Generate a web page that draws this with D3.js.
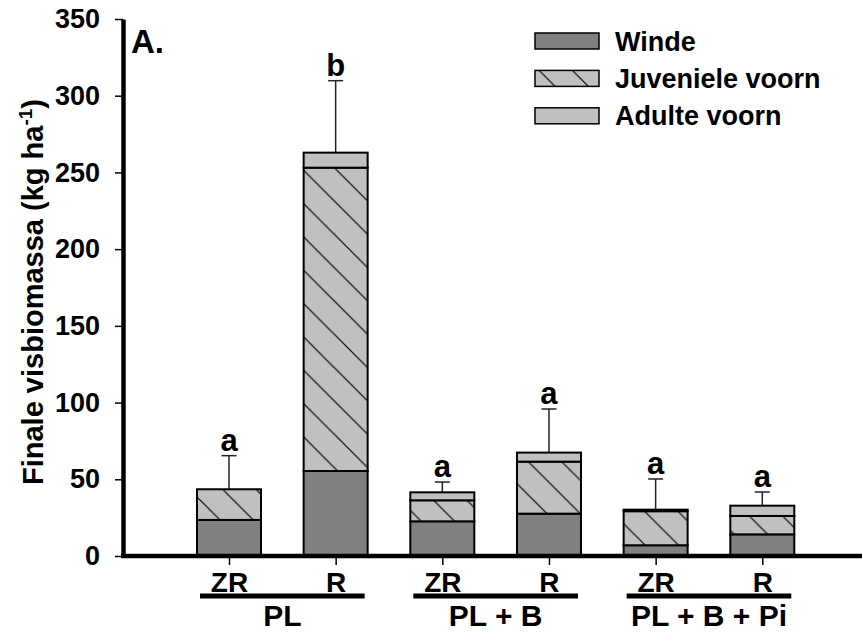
<!DOCTYPE html>
<html lang="nl">
<head>
<meta charset="UTF-8">
<title>Finale visbiomassa</title>
<script src="https://d3js.org/d3.v7.min.js"></script>
<style>
    body { margin: 0; background: #fff; }
    svg { display: block; font-family: "Liberation Sans", Arial, sans-serif; font-weight: bold; }
    .tick text { font-size: 27px; fill: #000; }
</style>
</head>
<body>
<script>
// data
const groups = ["PL", "PL + B", "PL + B + Pi"];
const treatments = ["ZR", "R", "ZR", "R", "ZR", "R"];
const groupOf = [0, 0, 1, 1, 2, 2];
const winde = [23.5, 55.4, 22.6, 27.6, 7.0, 14.1];
const juveniel = [20.0, 197.7, 13.7, 33.9, 22.2, 12.0];
const adult = [0, 9.8, 5.2, 5.9, 1.0, 6.7];
const se = [21.9, 46.9, 6.7, 28.4, 20.0, 8.9];
const letters = ["a", "b", "a", "a", "a", "a"];
const seriesNames = ["Winde", "Juveniele voorn", "Adulte voorn"];
const yTicks = [0, 50, 100, 150, 200, 250, 300, 350];

const width = 862, height = 633;
const barW = 64;

const svg = d3.select("body").append("svg")
    .attr("width", width)
    .attr("height", height);

// hatch for juvenile roach
const defs = svg.append("defs");
const pat = defs.append("pattern")
    .attr("id", "hatch")
    .attr("patternUnits", "userSpaceOnUse")
    .attr("width", 33.33)
    .attr("height", 33.33);
pat.append("rect").attr("width", 33.33).attr("height", 33.33).attr("fill", "#c0c0c0");
pat.append("path")
    .attr("d", "M0,0L33.33,33.33M-5,28.33L5,38.33M28.33,-5L38.33,5")
    .attr("stroke", "#000")
    .attr("stroke-width", 1.2);

const fills = ["#808080", "url(#hatch)", "#c0c0c0"];

const idx = d3.range(treatments.length);
const x = d3.scalePoint().domain(idx).range([229, 762.3]);
const y = d3.scaleLinear().domain([0, 350]).range([556, 19]);

const rows = idx.map(i => ({ i: i, Winde: winde[i], "Juveniele voorn": juveniel[i], "Adulte voorn": adult[i] }));
const stacked = d3.stack().keys(seriesNames)(rows);

// error bars (upper only) and letters
const errG = svg.append("g");
idx.forEach(i => {
    const total = winde[i] + juveniel[i] + adult[i];
    const cx = x(i);
    errG.append("line")
        .attr("x1", cx).attr("x2", cx)
        .attr("y1", y(total)).attr("y2", y(total + se[i]))
        .attr("stroke", "#222").attr("stroke-width", 1.5);
    errG.append("line")
        .attr("x1", cx - 7.5).attr("x2", cx + 7.5)
        .attr("y1", y(total + se[i])).attr("y2", y(total + se[i]))
        .attr("stroke", "#222").attr("stroke-width", 1.5);
    svg.append("text")
        .attr("x", cx)
        .attr("y", y(total + se[i]) - 5)
        .attr("text-anchor", "middle")
        .style("font-size", "31px")
        .text(letters[i]);
});

// stacked bars
svg.selectAll(".layer")
    .data(stacked)
    .enter().append("g")
    .attr("class", "layer")
    .attr("fill", (d, k) => fills[k])
    .selectAll("rect")
    .data(d => d)
    .enter().append("rect")
    .attr("x", d => x(d.data.i) - barW / 2)
    .attr("width", barW)
    .attr("y", d => y(d[1]))
    .attr("height", d => y(d[0]) - y(d[1]))
    .attr("stroke", "#000")
    .attr("stroke-width", 2);

// y axis
const yAxis = svg.append("g")
    .attr("transform", "translate(123,0)")
    .call(d3.axisLeft(y).tickValues(yTicks).tickSize(8).tickSizeOuter(0).tickPadding(15));
yAxis.select(".domain").attr("stroke-width", 4.5);
yAxis.selectAll(".tick line").attr("stroke-width", 1.5);

// x axis
const xAxis = svg.append("g")
    .attr("transform", "translate(0,556)")
    .call(d3.axisBottom(x).tickSize(9).tickSizeOuter(0).tickFormat(i => treatments[i]));
xAxis.select(".domain").remove();
xAxis.selectAll(".tick line").attr("stroke-width", 1.5);
xAxis.selectAll(".tick text").attr("y", 36).attr("dy", 0).style("font-size", "28px");
svg.append("line")
    .attr("x1", 121).attr("x2", 862)
    .attr("y1", 556).attr("y2", 556)
    .attr("stroke", "#000").attr("stroke-width", 4.5);

// group underlines + names
groups.forEach((g, gi) => {
    const members = idx.filter(i => groupOf[i] === gi);
    const x0 = x(members[0]) - 29, x1 = x(members[members.length - 1]) + 29;
    svg.append("line")
        .attr("x1", x0).attr("x2", x1)
        .attr("y1", 596).attr("y2", 596)
        .attr("stroke", "#000").attr("stroke-width", 5);
    svg.append("text")
        .attr("x", (x0 + x1) / 2)
        .attr("y", 626)
        .attr("text-anchor", "middle")
        .style("font-size", "30px")
        .text(g);
});

// y axis title
const yTitle = svg.append("text")
    .attr("transform", "translate(43,292) rotate(-90)")
    .attr("text-anchor", "middle")
    .style("font-size", "29px");
yTitle.append("tspan").text("Finale visbiomassa (kg ha");
yTitle.append("tspan").attr("dy", -11).style("font-size", "19px").text("-1");
yTitle.append("tspan").attr("dy", 11).text(")");

// panel letter
svg.append("text")
    .attr("x", 131)
    .attr("y", 53)
    .style("font-size", "33px")
    .text("A.");

// legend
const legend = svg.append("g").attr("transform", "translate(535,33)");
seriesNames.forEach((s, k) => {
    const gy = k * 37.4;
    legend.append("rect")
        .attr("x", 0).attr("y", gy)
        .attr("width", 64).attr("height", 16)
        .attr("fill", fills[k])
        .attr("stroke", "#000").attr("stroke-width", 1.5);
    legend.append("text")
        .attr("x", 80).attr("y", gy + 17.5)
        .style("font-size", "27px")
        .text(s);
});
</script>
</body>
</html>
